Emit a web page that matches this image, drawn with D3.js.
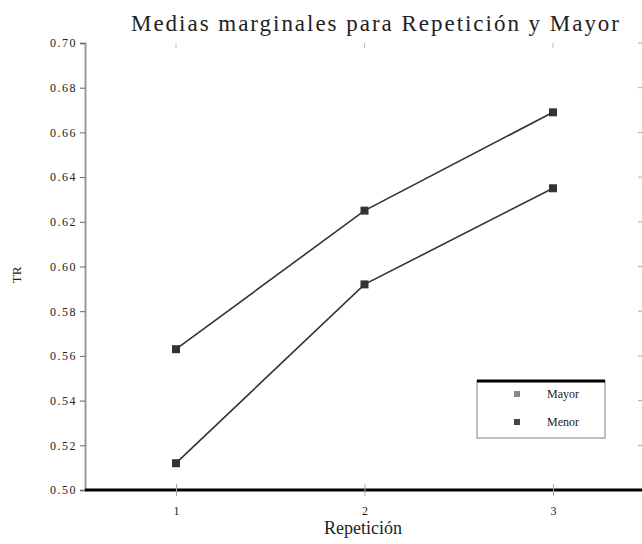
<!DOCTYPE html>
<html>
<head>
<meta charset="utf-8">
<script src="https://cdn.jsdelivr.net/npm/d3@7"></script>
<style>
  html, body { margin: 0; padding: 0; background: #fff; }
  svg { display: block; }
  text { font-family: "Liberation Serif", "DejaVu Serif", serif; fill: #222; }
</style>
</head>
<body>
<svg id="chart" width="642" height="544"></svg>
<script>
// Repetition levels on the x axis
const repeticiones = ["1", "2", "3"];
// Group names shown in the legend
const grupos = ["Mayor", "Menor"];
// Estimated marginal means per group, one value per repetition
const mediasMayor = [0.563, 0.625, 0.669];
const mediasMenor = [0.512, 0.592, 0.635];
// Y axis tick values
const ticksY = [0.50, 0.52, 0.54, 0.56, 0.58, 0.60, 0.62, 0.64, 0.66, 0.68, 0.70];

const svg = d3.select("#chart");
const margin = { left: 85, right: 0, top: 43, bottom: 54 };
const W = 642, H = 544;

const x = d3.scalePoint().domain(repeticiones).range([176, 553]);
const y = d3.scaleLinear().domain([0.50, 0.70]).range([H - margin.bottom, margin.top]);

// Title
svg.append("text")
  .attr("x", 375).attr("y", 31)
  .attr("text-anchor", "middle")
  .attr("font-size", 23)
  .attr("textLength", 488).attr("lengthAdjust", "spacing")
  .attr("fill", "#333")
  .text("Medias marginales para Repetición y Mayor");

// Left axis
const yAxis = d3.axisLeft(y).tickValues(ticksY).tickSize(5).tickFormat(d3.format(".2f"));
const gy = svg.append("g").attr("transform", `translate(${margin.left},0)`).call(yAxis);
gy.select(".domain").attr("stroke", "#999").attr("stroke-width", 2);
gy.selectAll(".tick line").attr("stroke", "#666");
gy.selectAll(".tick text").attr("font-size", 12).attr("fill", "#666")
  .attr("x", -8).attr("letter-spacing", 1.5);

// Mirror ticks on the right edge
svg.append("g").selectAll("line").data(ticksY).join("line")
  .attr("x1", W - 4).attr("x2", W).attr("y1", d => y(d)).attr("y2", d => y(d))
  .attr("stroke", "#aaa");

// Mirror ticks along the top
svg.append("g").selectAll("line").data(repeticiones).join("line")
  .attr("x1", d => x(d)).attr("x2", d => x(d)).attr("y1", margin.top).attr("y2", margin.top + 5)
  .attr("stroke", "#bbb");

// Bottom axis
const xAxis = d3.axisBottom(x).tickSize(6).tickPadding(10);
const gx = svg.append("g").attr("transform", `translate(0,${H - margin.bottom})`).call(xAxis);
gx.select(".domain").attr("d", `M${margin.left},0H${W}`).attr("stroke", "#000").attr("stroke-width", 3);
gx.selectAll(".tick line").attr("stroke", "#aaa").attr("y1", -6);
gx.selectAll(".tick text").attr("font-size", 12).attr("fill", "#aaa");

// Axis titles
svg.append("text")
  .attr("x", 363).attr("y", 534)
  .attr("text-anchor", "middle").attr("font-size", 18).attr("fill", "#444")
  .text("Repetición");
svg.append("text")
  .attr("transform", "translate(21,275) rotate(-90)")
  .attr("text-anchor", "middle").attr("font-size", 13).attr("fill", "#555")
  .text("TR");

// Series
const series = [
  { name: grupos[0], values: mediasMayor },
  { name: grupos[1], values: mediasMenor }
];
const line = d3.line().x((d, i) => x(repeticiones[i])).y(d => y(d));

series.forEach(s => {
  svg.append("path")
    .attr("d", line(s.values))
    .attr("fill", "none").attr("stroke", "#333").attr("stroke-width", 1.6);
  svg.append("g").selectAll("rect").data(s.values).join("rect")
    .attr("x", (d, i) => x(repeticiones[i]) - 4)
    .attr("y", d => y(d) - 4)
    .attr("width", 8).attr("height", 8)
    .attr("fill", "#333");
});

// Legend
const lg = svg.append("g").attr("transform", "translate(477,381)");
lg.append("rect").attr("width", 128).attr("height", 57)
  .attr("fill", "#fff").attr("stroke", "#aaa").attr("stroke-width", 1.5);
lg.append("line").attr("x1", 0).attr("x2", 128).attr("y1", 0).attr("y2", 0)
  .attr("stroke", "#000").attr("stroke-width", 3);
grupos.forEach((g, i) => {
  const row = lg.append("g").attr("transform", `translate(0,${13 + i * 28})`);
  row.append("rect").attr("x", 37).attr("y", -3).attr("width", 6).attr("height", 6)
    .attr("fill", i === 0 ? "#888" : "#444");
  row.append("text").attr("x", 70).attr("y", 4).attr("font-size", 12).attr("fill", "#555").text(g);
});
</script>
</body>
</html>
